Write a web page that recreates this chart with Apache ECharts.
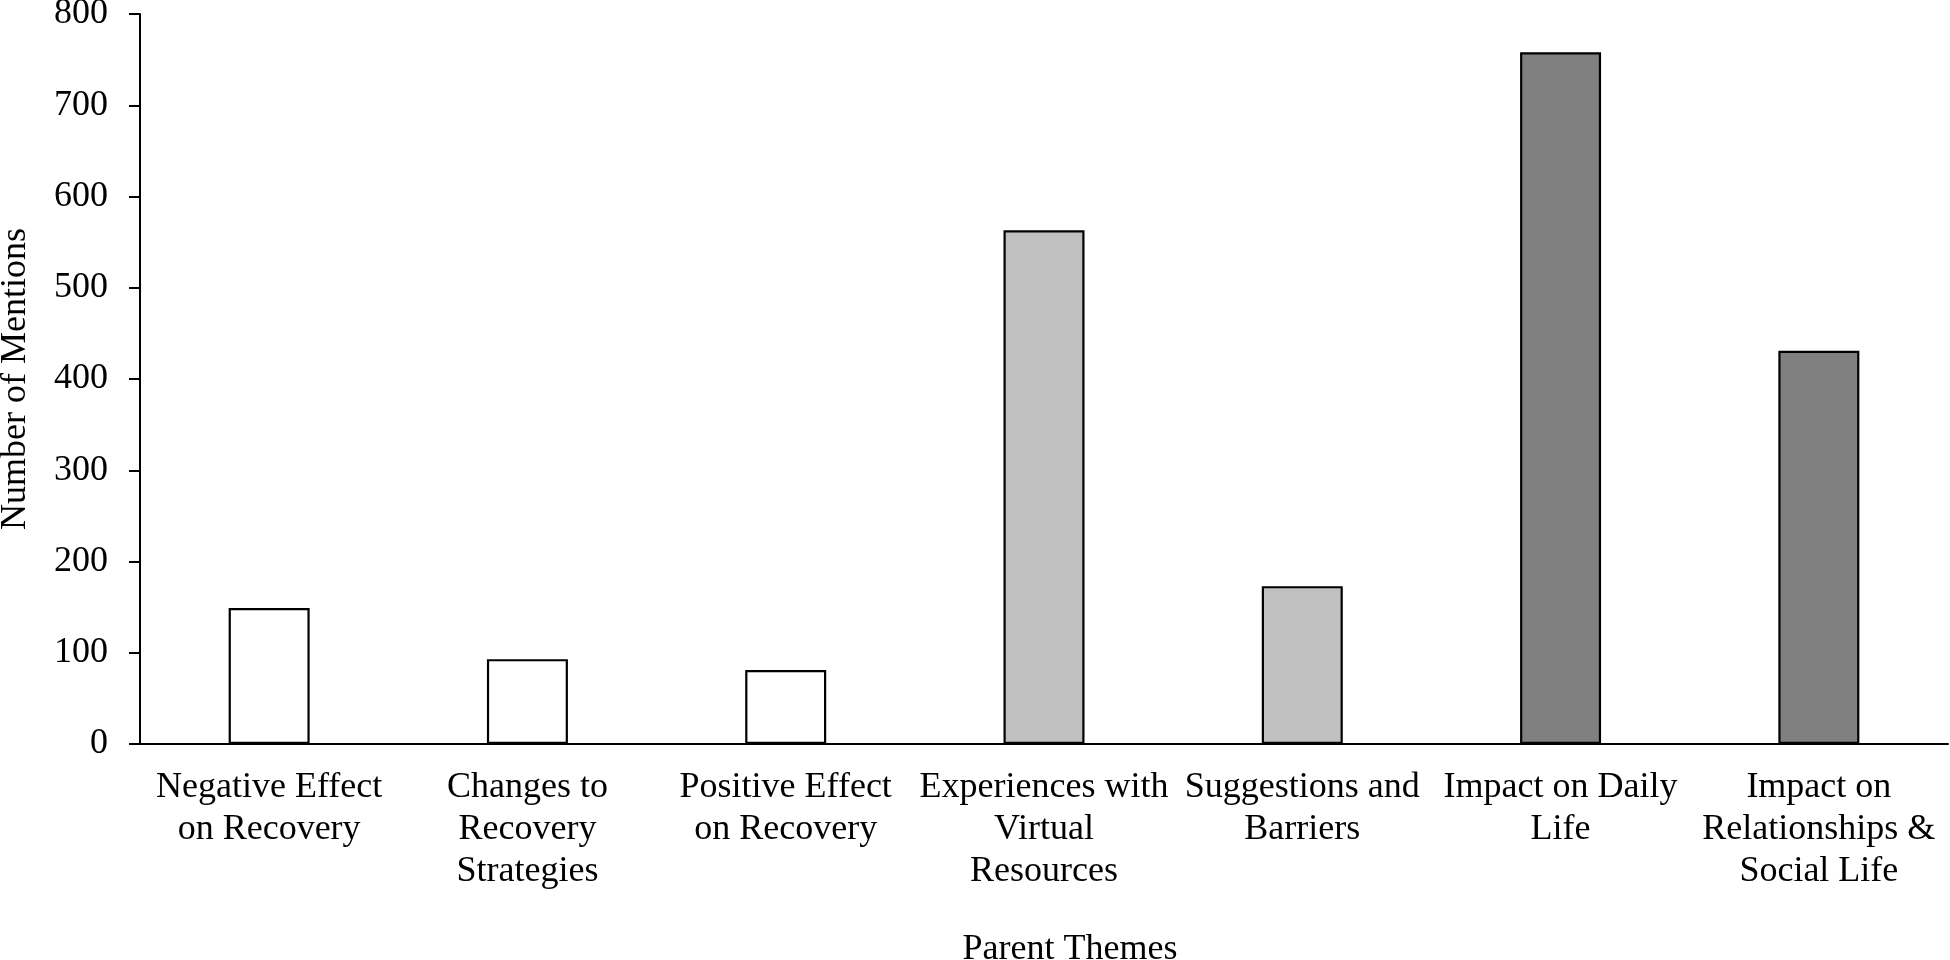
<!DOCTYPE html>
<html>
<head>
<meta charset="utf-8">
<script src="https://cdn.jsdelivr.net/npm/echarts@6/dist/echarts.min.js"></script>
<style>
html,body{margin:0;padding:0;background:#fff;}
#chart{width:1950px;height:960px;}
</style>
</head>
<body>
<div id="chart"></div>
<script>
const categories = [
  "Negative Effect\non Recovery",
  "Changes to\nRecovery\nStrategies",
  "Positive Effect\non Recovery",
  "Experiences with\nVirtual\nResources",
  "Suggestions and\nBarriers",
  "Impact on Daily\nLife",
  "Impact on\nRelationships &\nSocial Life"
];
const mentions = [149, 93, 81, 563, 173, 758, 431];
const barColors = ["#ffffff", "#ffffff", "#ffffff", "#c0c0c0", "#c0c0c0", "#808080", "#808080"];
const yTicks = [0, 100, 200, 300, 400, 500, 600, 700, 800];

const font = "'Liberation Serif', 'Times New Roman', serif";
const chart = echarts.init(document.getElementById('chart'));
chart.setOption({
  animation: false,
  backgroundColor: '#ffffff',
  grid: { left: 140, right: 2, top: 14, bottom: 216, containLabel: false, outerBoundsMode: 'none' },
  xAxis: {
    type: 'category',
    data: categories,
    name: 'Parent Themes',
    nameLocation: 'middle',
    nameGap: 188,
    nameTextStyle: { fontFamily: font, fontSize: 36, color: '#000', padding: [0, 0, 0, 52] },
    axisLine: { lineStyle: { color: '#000', width: 2 } },
    axisTick: { show: false },
    axisLabel: { interval: 0, fontFamily: font, fontSize: 36, lineHeight: 42, color: '#000', margin: 23 }
  },
  yAxis: {
    type: 'value',
    min: yTicks[0],
    max: yTicks[yTicks.length - 1],
    interval: 100,
    name: 'Number of Mentions',
    nameLocation: 'middle',
    nameGap: 106,
    nameTextStyle: { fontFamily: font, fontSize: 36, color: '#000' },
    axisLine: { show: true, lineStyle: { color: '#000', width: 2 } },
    axisTick: { show: true, length: 11, lineStyle: { color: '#000', width: 2 } },
    splitLine: { show: false },
    axisLabel: { fontFamily: font, fontSize: 36, color: '#000', margin: 32 }
  },
  series: [{
    type: 'bar',
    barWidth: 81,
    data: mentions.map((v, i) => ({
      value: v,
      itemStyle: { color: barColors[i], borderColor: '#000', borderWidth: 2.2 }
    }))
  }]
});
</script>
</body>
</html>
